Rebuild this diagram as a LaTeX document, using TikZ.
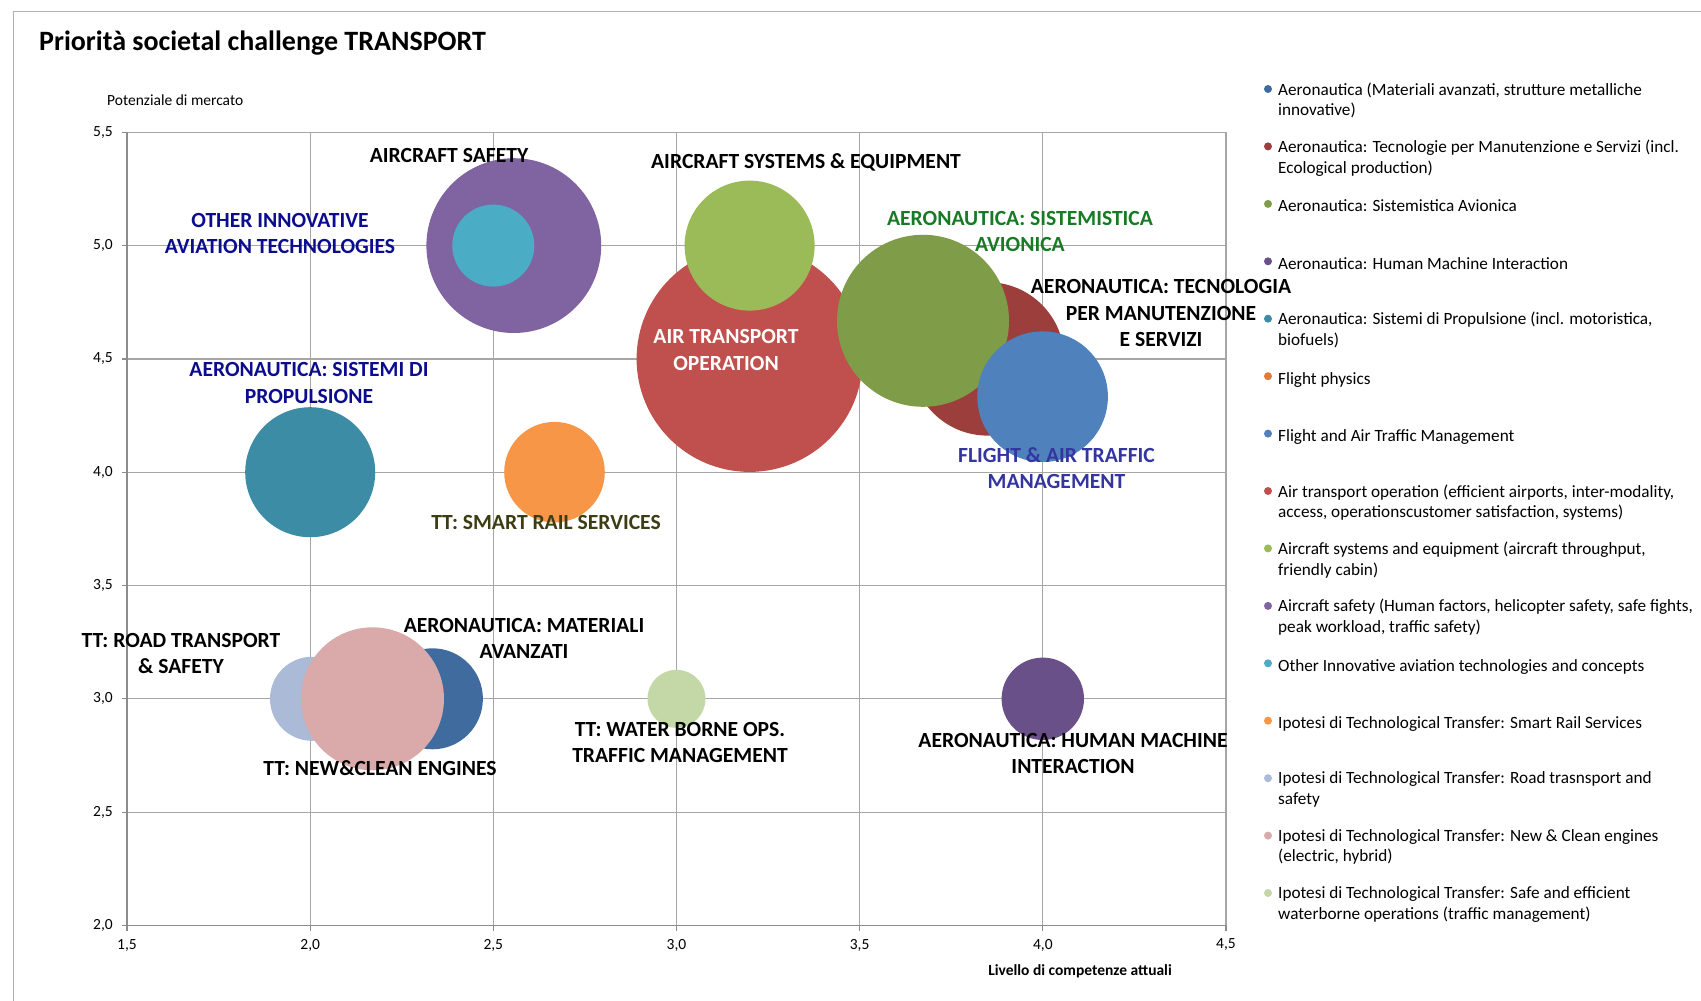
\documentclass[tikz,border=0pt]{standalone}
\usepackage{fontspec}
\setmainfont{Carlito}
\definecolor{cMat}{HTML}{3F6B9E}
\definecolor{cMan}{HTML}{9C3F3C}
\definecolor{cSis}{HTML}{7F9C48}
\definecolor{cHMI}{HTML}{6A5088}
\definecolor{cProp}{HTML}{3D8CA5}
\definecolor{cFP}{HTML}{E07B39}
\definecolor{cFATM}{HTML}{4F81BD}
\definecolor{cATO}{HTML}{C0504D}
\definecolor{cSys}{HTML}{9BBB59}
\definecolor{cSafe}{HTML}{8064A2}
\definecolor{cOth}{HTML}{4BACC6}
\definecolor{cRail}{HTML}{F79646}
\definecolor{cRoad}{HTML}{AABAD7}
\definecolor{cNew}{HTML}{D9AAA9}
\definecolor{cWat}{HTML}{C4D7A6}
\definecolor{tNavy}{HTML}{0C0C8E}
\definecolor{tGreen}{HTML}{197A26}
\definecolor{tFlight}{HTML}{3535A0}
\definecolor{tRail}{HTML}{3D3D14}
\definecolor{gridgray}{HTML}{A6A6A6}
\definecolor{axisgray}{HTML}{8C8C8C}
\definecolor{framegray}{HTML}{B0B0B0}
\begin{document}
\begin{tikzpicture}[x=1pt,y=-1pt,
  lab/.style={font=\bfseries\fontsize{21.6}{26.5}\selectfont, align=center, inner sep=0pt},
  leg/.style={font=\fontsize{17.2}{20.6}\selectfont, align=left, anchor=north west, inner sep=0pt, execute at begin node=\strut, yshift=-2.2pt},
  ticklab/.style={font=\fontsize{15.5}{18}\selectfont, inner sep=0pt},
  gridline/.style={draw=gridgray, line width=1.2pt},
  axisline/.style={draw=axisgray, line width=1.2pt}]
\useasboundingbox (0,0) rectangle (1701,1001);
\fill[white] (0,0) rectangle (1701,1001);
\draw[framegray, line width=1.5pt] (13.5,1001) -- (13.5,11.5) -- (1701,11.5);
% title
\node[font=\bfseries\fontsize{28}{33}\selectfont, anchor=base west, inner sep=0pt] (title) at (39,50) {Priorità societal challenge TRANSPORT};
\node[ticklab, anchor=west] (ytitle) at (107,100) {Potenziale di mercato};
\node[ticklab, font=\bfseries\fontsize{15.5}{18}\selectfont, anchor=east] (xtitle) at (1172,971) {Livello di competenze attuali};
% grid
\foreach \gx in {310.2,493.3,676.5,859.6,1042.8,1226} \draw[gridline] (\gx,132.3) -- (\gx,925.4);
\foreach \gy in {132.3,245.6,358.9,472.2,585.5,698.8,812.1} \draw[gridline] (127,\gy) -- (1226,\gy);
\draw[axisline] (127,132.3) -- (127,925.4) -- (1226,925.4);
\foreach \gy/\t in {132.3/{5,5},245.6/{5,0},358.9/{4,5},472.2/{4,0},585.5/{3,5},698.8/{3,0},812.1/{2,5},925.4/{2,0}} {
  \draw[axisline] (122,\gy) -- (127,\gy);
  \node[ticklab, anchor=east] at (113,\gy) {\t};
}
\foreach \gx/\t in {127/{1,5},310.2/{2,0},493.3/{2,5},676.5/{3,0},859.6/{3,5},1042.8/{4,0},1226/{4,5}} {
  \draw[axisline] (\gx,925.4) -- (\gx,931);
  \node[ticklab] at (\gx,945) {\t};
}
% bubbles
\fill[cMat] (432.4,698.8) circle[radius=50.5];
\fill[cRoad] (312,698.8) circle[radius=42];
\fill[cNew] (372.5,698.8) circle[radius=71.5];
\fill[cATO] (749.6,358.9) circle[radius=113];
\fill[cSys] (749.6,245.6) circle[radius=65];
\fill[cMan] (987.6,358.9) circle[radius=76.7];
\fill[cSis] (923,320.8) circle[radius=86];
\fill[cFATM] (1042.6,396.7) circle[radius=65.3];
\fill[cSafe] (513.8,245.6) circle[radius=87.4];
\fill[cOth] (493.3,245.6) circle[radius=41];
\fill[cProp] (310.2,472.2) circle[radius=65];
\fill[cRail] (554.5,472.2) circle[radius=50.3];
\fill[cWat] (676.5,698.8) circle[radius=29];
\fill[cHMI] (1042.8,698.8) circle[radius=41.2];
% bubble labels
\node[lab] (bSafe) at (449,155) {AIRCRAFT SAFETY};
\node[lab, text=tNavy] (bOth) at (280,233.5) {OTHER INNOVATIVE\\AVIATION TECHNOLOGIES};
\node[lab] (bSys) at (806,162) {AIRCRAFT SYSTEMS \& EQUIPMENT};
\node[lab, text=tGreen] (bSis) at (1020,231.5) {AERONAUTICA: SISTEMISTICA\\AVIONICA};
\node[lab] (bMan) at (1161,313) {AERONAUTICA: TECNOLOGIA\\PER MANUTENZIONE\\E SERVIZI};
\node[lab, text=white] (bATO) at (726,350) {AIR TRANSPORT\\OPERATION};
\node[lab, text=tNavy] (bProp) at (309,383) {AERONAUTICA: SISTEMI DI\\PROPULSIONE};
\node[lab, text=tRail] (bRail) at (546,522) {TT: SMART RAIL SERVICES};
\node[lab, text=tFlight] (bFATM) at (1056.5,468) {FLIGHT \& AIR TRAFFIC\\MANAGEMENT};
\node[lab] (bRoad) at (181,653.5) {TT: ROAD TRANSPORT\\\& SAFETY};
\node[lab] (bMat) at (524,638.5) {AERONAUTICA: MATERIALI\\AVANZATI};
\node[lab] (bNew) at (380,768) {TT: NEW\&CLEAN ENGINES};
\node[lab] (bWat) at (680,742.5) {TT: WATER BORNE OPS.\\TRAFFIC MANAGEMENT};
\node[lab] (bHMI) at (1073,753.5) {AERONAUTICA: HUMAN MACHINE\\INTERACTION};
% legend (node top = first baseline - 14.42)
\fill[cMat] (1268,89) circle[radius=4];
\node[leg] (l1) at (1278,80.1) {Aeronautica (Materiali avanzati, strutture metalliche\\innovative)};
\fill[cMan] (1268,146.4) circle[radius=4];
\node[leg] (l2) at (1278,137.5) {Aeronautica: Tecnologie per Manutenzione e Servizi (incl.\\Ecological production)};
\fill[cSis] (1268,203.9) circle[radius=4];
\node[leg] (l3) at (1278,195) {Aeronautica: Sistemistica Avionica};
\fill[cHMI] (1268,261.3) circle[radius=4];
\node[leg] (l4) at (1278,252.4) {Aeronautica: Human Machine Interaction};
\fill[cProp] (1268,318.7) circle[radius=4];
\node[leg] (l5) at (1278,309.8) {Aeronautica: Sistemi di Propulsione (incl. motoristica,\\biofuels)};
\fill[cFP] (1268,376.2) circle[radius=4];
\node[leg] (l6) at (1278,367.3) {Flight physics};
\fill[cFATM] (1268,433.6) circle[radius=4];
\node[leg] (l7) at (1278,424.7) {Flight and Air Traffic Management};
\fill[cATO] (1268,491) circle[radius=4];
\node[leg] (l8) at (1278,482.1) {Air transport operation (efficient airports, inter-modality,\\access, operationscustomer satisfaction, systems)};
\fill[cSys] (1268,548.4) circle[radius=4];
\node[leg] (l9) at (1278,539.5) {Aircraft systems and equipment (aircraft throughput,\\friendly cabin)};
\fill[cSafe] (1268,605.9) circle[radius=4];
\node[leg] (l10) at (1278,597) {Aircraft safety (Human factors, helicopter safety, safe fights,\\peak workload, traffic safety)};
\fill[cOth] (1268,663.3) circle[radius=4];
\node[leg] (l11) at (1278,654.4) {Other Innovative aviation technologies and concepts};
\fill[cRail] (1268,720.7) circle[radius=4];
\node[leg] (l12) at (1278,711.8) {Ipotesi di Technological Transfer: Smart Rail Services};
\fill[cRoad] (1268,778.2) circle[radius=4];
\node[leg] (l13) at (1278,769.3) {Ipotesi di Technological Transfer: Road trasnsport and\\safety};
\fill[cNew] (1268,835.6) circle[radius=4];
\node[leg] (l14) at (1278,826.7) {Ipotesi di Technological Transfer: New \& Clean engines\\(electric, hybrid)};
\fill[cWat] (1268,893) circle[radius=4];
\node[leg] (l15) at (1278,884.1) {Ipotesi di Technological Transfer: Safe and efficient\\waterborne operations (traffic management)};
\end{tikzpicture}
\end{document}
